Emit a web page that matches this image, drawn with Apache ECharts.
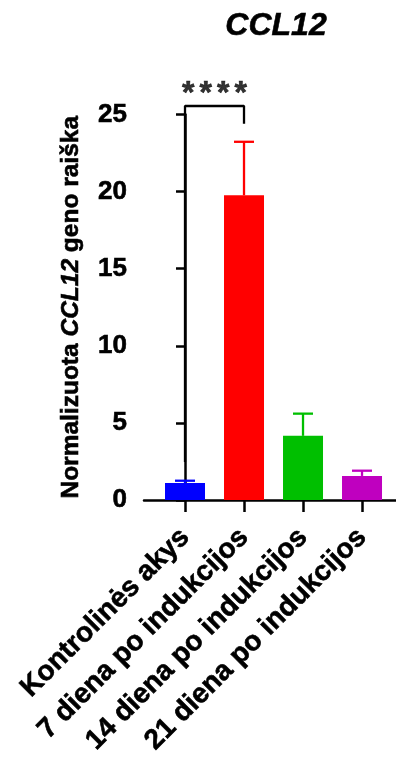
<!DOCTYPE html>
<html>
<head>
<meta charset="utf-8">
<script src="https://cdn.jsdelivr.net/npm/echarts@6/dist/echarts.min.js"></script>
<style>
html,body{margin:0;padding:0;background:#fff;}
#c{width:396px;height:760px;}
</style>
</head>
<body>
<div id="c"></div>
<script>
// ---- data ----
const categories = ['Kontrolinės akys', '7 diena po indukcijos', '14 diena po indukcijos', '21 diena po indukcijos'];
const means = [1.1, 19.76, 4.16, 1.56];
const errors = [0.15, 3.47, 1.44, 0.34];
const colors = ['#0000FF', '#FF0000', '#00BF00', '#BF00BF'];
const yTicks = [0, 5, 10, 15, 20, 25];
const bracket = [[0, 2.46], [0, 25.55], [1, 25.55], [1, 24.4]];
const sigLabel = '{a|*}{a|*}{a|*}{a|*}';
const sigPos = [0.5, 26.3];
const titleText = 'CCL12';

const FONT = "'Liberation Sans', Arial, sans-serif";
const chart = echarts.init(document.getElementById('c'), null, {renderer: 'canvas'});

const barData = means.map((m, i) => ({value: [i, m], itemStyle: {color: colors[i]}}));
const errData = means.map((m, i) => [i, m, errors[i]]);
const heavy = {textBorderColor: '#000', textBorderWidth: 0.6};

chart.setOption({
  animation: false,
  backgroundColor: '#fff',
  title: {
    text: titleText,
    left: 271, top: 5, textAlign: 'center',
    textStyle: Object.assign({fontFamily: FONT, fontSize: 32, fontWeight: 'bold', fontStyle: 'italic', color: '#000'}, heavy)
  },
  grid: {left: 144, right: 0, top: 114.5, bottom: 260, containLabel: false},
  xAxis: {
    type: 'value',
    min: -0.695, max: 3.576,
    splitLine: {show: false},
    axisLine: {show: true, lineStyle: {color: '#000', width: 2.5}},
    axisTick: {show: true, length: 12, lineStyle: {color: '#000', width: 2.5}, customValues: [0, 1, 2, 3]},
    axisLabel: Object.assign({
      show: true, customValues: [0, 1, 2, 3], rotate: 45, margin: 33,
      fontFamily: FONT, fontSize: 28, fontWeight: 'bold', color: '#000',
      formatter: v => categories[Math.round(v)]
    }, heavy)
  },
  yAxis: {
    type: 'value', min: 0, max: 25, interval: 5,
    splitLine: {show: false},
    axisLine: {show: true, lineStyle: {color: '#000', width: 2.5}},
    axisTick: {show: true, length: 9, lineStyle: {color: '#000', width: 2.5}},
    axisLabel: Object.assign({margin: 17, fontFamily: FONT, fontSize: 26, fontWeight: 'bold', color: '#000',
      formatter: v => yTicks.includes(v) ? String(v) : ''}, heavy),
    name: '{b|Normalizuota }{i|CCL12}{b| geno raiška}',
    nameLocation: 'middle', nameGap: 60, nameRotate: 90,
    nameTextStyle: {
      rich: {
        b: Object.assign({fontFamily: FONT, fontSize: 24.5, fontWeight: 'bold', color: '#000'}, heavy),
        i: Object.assign({fontFamily: FONT, fontSize: 24.5, fontWeight: 'bold', fontStyle: 'italic', color: '#000'}, heavy)
      }
    }
  },
  series: [
    {
      type: 'bar', data: barData, barWidth: 40, z: 2
    },
    {
      type: 'custom', data: errData, z: 3, clip: false,
      renderItem: function (params, api) {
        const x = api.value(0), m = api.value(1), e = api.value(2);
        const base = api.coord([x, m]);
        const top = api.coord([x, m + e]);
        const col = colors[params.dataIndex];
        return {
          type: 'group',
          children: [
            {type: 'line', shape: {x1: base[0], y1: base[1], x2: top[0], y2: top[1]}, style: {stroke: col, lineWidth: 2.3}},
            {type: 'line', shape: {x1: top[0] - 10, y1: top[1], x2: top[0] + 10, y2: top[1]}, style: {stroke: col, lineWidth: 2.3}}
          ]
        };
      }
    },
    {
      type: 'line', data: bracket, symbol: 'none', clip: false, z: 4,
      lineStyle: {color: '#000', width: 2.3}
    },
    {
      type: 'scatter', data: [sigPos], symbolSize: 1, clip: false, z: 5,
      itemStyle: {color: 'rgba(0,0,0,0)'},
      label: {show: true, position: 'inside', formatter: sigLabel,
        rich: {a: Object.assign({fontFamily: FONT, fontSize: 32, fontWeight: 'bold', color: '#000', width: 17.5, align: 'center'}, heavy)}}
    }
  ]
});
</script>
</body>
</html>
